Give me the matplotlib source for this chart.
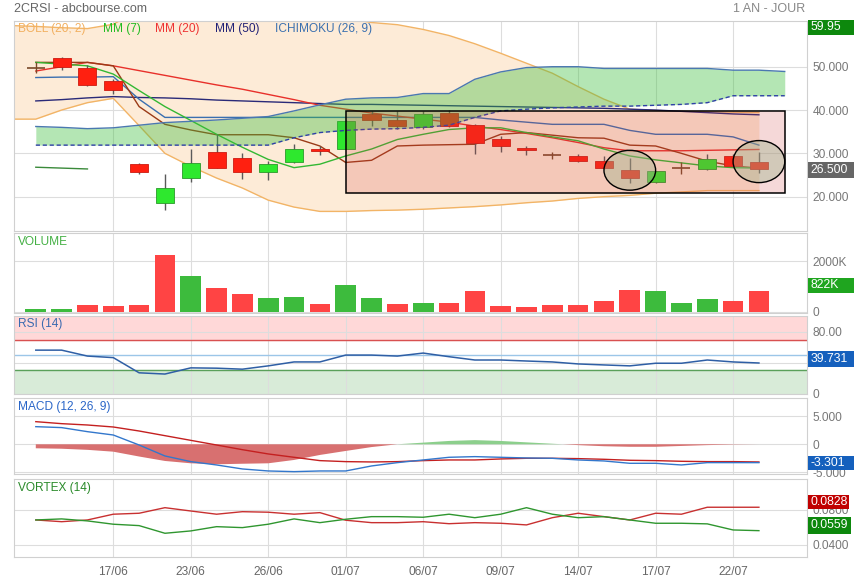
import matplotlib.pyplot as plt
from matplotlib.patches import Rectangle, Ellipse

# ==========================================
# Données lues sur le graphique 2CRSI (29 séances)
# ==========================================
pos_dates = [3, 6, 9, 12, 15, 18, 21, 24, 27]
libelles_dates = ['17/06', '23/06', '26/06', '01/07', '06/07', '09/07', '14/07', '17/07', '22/07']

ouverture = [49.8, 51.9, 49.8, 46.6, 27.6, 18.6, 24.2, 30.3, 29.0, 25.6, 28.0, 30.9, 31.0, 39.0, 37.6,
             36.1, 39.4, 36.5, 33.3, 31.3, 29.6, 29.3, 28.3, 26.2, 23.3, 26.7, 26.5, 29.4, 27.9]
haut = [51.0, 52.3, 50.3, 47.1, 27.8, 25.2, 30.9, 34.4, 30.0, 28.2, 32.1, 31.7, 37.6, 39.8, 39.8,
        39.8, 40.0, 36.8, 34.0, 31.6, 30.3, 29.8, 29.3, 29.0, 26.0, 28.0, 29.8, 29.8, 30.2]
bas = [48.6, 49.3, 45.6, 43.6, 25.2, 16.9, 23.4, 26.7, 24.0, 23.9, 27.7, 29.6, 30.9, 36.3, 35.6,
       35.6, 36.0, 29.8, 30.3, 29.6, 28.6, 28.0, 26.3, 23.1, 23.2, 25.2, 26.2, 27.1, 25.4]
cloture = [49.8, 50.0, 45.8, 44.6, 25.6, 22.1, 27.7, 26.7, 25.6, 27.6, 31.1, 30.5, 37.5, 37.7, 36.3,
           39.2, 36.3, 32.5, 31.7, 30.8, 29.6, 28.3, 26.7, 24.3, 25.9, 26.7, 28.8, 27.1, 26.5]

mm7 = [51.0, 50.6, 50.2, 48.3, 44.5, 40.8, 37.6, 34.4, 31.4, 28.6, 26.7, 27.5, 29.4, 31.0, 33.2,
       34.4, 35.5, 35.9, 35.9, 34.8, 33.8, 32.9, 31.0, 29.4, 28.5, 27.8, 27.1, 26.7, 26.6]
mm20 = [49.0, 50.0, 51.0, 50.2, 49.1, 48.0, 46.9, 45.8, 44.8, 43.6, 42.4, 41.1, 40.2, 39.3, 38.6,
        37.9, 37.2, 36.3, 35.5, 34.6, 33.6, 32.5, 31.3, 30.6, 30.6, 30.6, 30.7, 30.8, 30.9]
mm50 = [42.1, 42.4, 42.8, 43.1, 42.9, 42.8, 42.6, 42.3, 42.1, 41.9, 41.7, 41.5, 41.3, 41.3, 41.2,
        41.1, 41.0, 40.9, 40.8, 40.7, 40.6, 40.5, 40.4, 40.2, 40.0, 39.7, 39.4, 39.1, 38.9]

# Bollinger : commence une séance avant la première bougie
boll_haut = [59.5, 59.3, 59.0, 58.8, 59.8, 63.0, 65.5, 66.5, 67.0, 67.0, 66.5, 65.0, 63.0, 61.2, 60.2,
             59.7, 58.6, 57.2, 55.3, 53.1, 50.8, 48.5, 45.4, 42.5, 40.2, 39.9, 39.7, 39.6, 39.5, 39.4]
boll_bas = [37.9, 37.9, 40.0, 41.7, 42.7, 36.4, 30.0, 27.0, 24.3, 22.0, 19.2, 17.6, 16.6, 16.6, 16.8,
            16.9, 17.1, 17.4, 17.7, 18.1, 18.6, 19.0, 19.6, 20.0, 20.3, 20.8, 21.1, 21.4, 21.4, 21.4]

# Ichimoku
tenkan = [51.0, 51.0, 51.0, 50.2, 40.8, 36.7, 35.4, 34.3, 34.3, 34.3, 33.6, 31.7, 27.9, 28.4, 31.7,
          31.9, 32.0, 32.1, 34.4, 34.8, 34.2, 33.6, 33.5, 31.9, 31.7, 30.0, 28.2, 27.1, 26.6]
kijun = [47.5, 47.6, 47.6, 47.7, 42.5, 38.3, 38.3, 38.3, 38.3, 38.3, 38.3, 38.3, 38.3, 38.3, 38.3,
         38.3, 38.3, 38.3, 37.7, 37.2, 36.7, 36.7, 36.7, 35.3, 34.4, 34.4, 34.4, 33.8, 31.9]
chikou = [26.8, 26.6, 26.4]
ssa = [36.2, 36.0, 35.7, 35.9, 36.5, 37.1, 37.4, 37.7, 38.1, 38.5, 39.8, 41.2, 42.5, 42.8, 42.9,
       43.8, 43.8, 47.1, 48.8, 49.8, 50.0, 50.0, 49.6, 49.6, 49.6, 49.6, 49.6, 49.2, 49.2, 48.9]
ssb = [31.9, 31.9, 31.9, 31.9, 31.9, 31.9, 31.9, 31.9, 31.9, 31.9, 33.6, 34.8, 35.3, 35.6, 35.7,
       36.0, 36.5, 38.3, 39.8, 40.2, 40.5, 40.7, 40.9, 40.9, 41.1, 41.3, 41.7, 43.3, 43.3, 43.3]

volume_k = [90, 90, 275, 235, 247, 2235, 1412, 941, 706, 536, 575, 314, 1046, 549, 301,
            340, 340, 810, 235, 183, 262, 248, 431, 850, 810, 331, 513, 422, 822]
sens_volume = ['h', 'h', 'b', 'b', 'b', 'b', 'h', 'b', 'b', 'h', 'h', 'b', 'h', 'h', 'b',
               'h', 'b', 'b', 'b', 'b', 'b', 'b', 'b', 'b', 'h', 'h', 'h', 'b', 'b']

rsi = [56.4, 56.4, 48.7, 46.7, 27.0, 25.4, 33.4, 33.0, 31.7, 36.0, 41.1, 41.1, 50.0, 50.0, 48.7,
       52.6, 47.9, 43.6, 43.6, 42.3, 41.1, 38.5, 37.2, 36.0, 39.4, 39.4, 43.6, 41.1, 39.731]

macd = [3.17, 3.0, 2.27, 1.67, -0.13, -2.1, -3.12, -3.72, -4.44, -4.8, -4.92, -4.8, -4.8, -3.9, -3.3,
        -2.82, -2.34, -2.22, -2.34, -2.46, -2.52, -2.82, -3.0, -3.42, -3.42, -3.72, -3.3, -3.3, -3.301]
signal = [4.07, 3.71, 3.47, 3.11, 2.39, 1.55, 0.71, -0.13, -0.97, -1.74, -2.34, -2.94, -3.12, -3.18, -3.12,
          -2.94, -2.82, -2.82, -2.64, -2.52, -2.52, -2.58, -2.7, -2.88, -2.94, -3.06, -3.12, -3.12, -3.18]
histo = [-0.72, -0.8, -1.0, -1.33, -2.2, -3.0, -3.42, -3.6, -3.5, -3.42, -2.82, -1.92, -1.2, -0.5, 0.0,
         0.3, 0.6, 0.75, 0.6, 0.35, 0.1, -0.15, -0.35, -0.45, -0.45, -0.3, -0.15, -0.05, 0.0]

vortex_moins = [0.0682, 0.0662, 0.0682, 0.0748, 0.0759, 0.0823, 0.0785, 0.0748, 0.0777, 0.0771,
                0.0748, 0.0766, 0.0679, 0.0651, 0.0651, 0.0662, 0.0639, 0.0651, 0.0644, 0.0625,
                0.0708, 0.0759, 0.0720, 0.0682, 0.0759, 0.0748, 0.0828, 0.0828, 0.0828]
vortex_plus = [0.0682, 0.0694, 0.0671, 0.0633, 0.0617, 0.0529, 0.0556, 0.0605, 0.0594, 0.0633,
               0.0694, 0.0651, 0.0690, 0.0720, 0.0720, 0.0713, 0.0748, 0.0708, 0.0748, 0.0823,
               0.0748, 0.0708, 0.0720, 0.0682, 0.0644, 0.0644, 0.0637, 0.0567, 0.0559]

W, H = 855, 580
GRIS_TEXTE = '#777777'


def tracer_graphique():
    plt.rcParams['font.family'] = ['Liberation Sans', 'DejaVu Sans']
    fig = plt.figure(figsize=(W / 100, H / 100), dpi=100)

    def panneau(y_haut, y_bas):
        g, d = 14, 806.7
        return fig.add_axes([g / W, 1 - y_bas / H, (d - g) / W, (y_bas - y_haut) / H])

    def habiller(ax, yticks, ylabels, ylim):
        ax.set_xlim(-0.844, 29.85)
        ax.set_ylim(*ylim)
        ax.set_xticks(pos_dates)
        ax.set_xticklabels([])
        ax.set_yticks(yticks)
        ax.set_yticklabels(ylabels)
        ax.yaxis.tick_right()
        ax.tick_params(length=0, labelsize=8.6, labelcolor=GRIS_TEXTE, pad=4)
        ax.grid(True, color='#dddddd', linewidth=0.8, zorder=0)
        ax.set_axisbelow(True)
        for s in ax.spines.values():
            s.set_color('#d0d0d0')
            s.set_linewidth(0.8)

    def boite(y_px, texte, couleur, largeur=46, hauteur=15.5):
        # cartouche de largeur fixe collé au bord droit, comme sur abcbourse
        fig.add_artist(Rectangle((808 / W, 1 - (y_px + hauteur / 2) / H), largeur / W, hauteur / H,
                                 transform=fig.transFigure, facecolor=couleur, edgecolor='none',
                                 zorder=10))
        fig.text(810.5 / W, 1 - y_px / H, texte, color='white', fontsize=8.8, va='center',
                 ha='left', zorder=11)

    def titre_panneau(y_px, texte, couleur):
        fig.text(18 / W, 1 - y_px / H, texte, color=couleur, fontsize=8.6, va='center', ha='left')

    x = list(range(len(cloture)))
    x_boll = list(range(-1, len(boll_haut) - 1))
    x_nuage = list(range(len(ssa)))

    # ==========================================
    # Panneau principal : bougies + indicateurs
    # ==========================================
    ax = panneau(21, 231)
    habiller(ax, [20, 30, 40, 50], ['20.000', '30.000', '40.000', '50.000'], (12.08, 60.55))

    ax.fill_between(x_boll, boll_bas, boll_haut, color='#fdebd7', lw=0, zorder=1)
    ax.plot(x_boll, boll_haut, color='#f2b466', lw=1, zorder=2)
    ax.plot(x_boll, boll_bas, color='#f2b466', lw=1, zorder=2)

    ax.plot(x, mm50, color='#2a2a78', lw=1, zorder=3)
    ax.plot(x, kijun, color='#3a6fb0', lw=1, zorder=3)
    ax.plot(x, mm20, color='#e8302a', lw=1, zorder=3)
    ax.plot(x, tenkan, color='#9a3a16', lw=1, zorder=3)
    ax.plot(x, mm7, color='#33b833', lw=1, zorder=3)
    ax.plot(x[:len(chikou)], chikou, color='#3a8a3a', lw=1, zorder=3)

    # Bougies
    for i in x:
        o, h, b, c = ouverture[i], haut[i], bas[i], cloture[i]
        if c == o:
            ax.vlines(i, b, h, color='#7a4a2a', lw=1, zorder=4)
            ax.hlines(c, i - 0.35, i + 0.35, color='#7a4a2a', lw=1.2, zorder=4)
            continue
        fond, bord = ('#2ee82e', '#2a9a2a') if c > o else ('#ff2010', '#cc1a10')
        ax.vlines(i, b, h, color='#5a5a5a', lw=1, zorder=4)
        ax.bar(i, abs(c - o), bottom=min(o, c), width=0.7, color=fond, edgecolor=bord,
               linewidth=0.6, zorder=4.5)

    # Nuage Ichimoku (par-dessus les bougies)
    ax.fill_between(x_nuage, ssb, ssa, color=(60 / 255, 190 / 255, 60 / 255), alpha=0.38, lw=0, zorder=5)
    ax.plot(x_nuage, ssa, color='#4a78b0', lw=1, zorder=6)
    ax.plot(x_nuage, ssb, color='#3040a8', lw=1, dashes=(3, 2), zorder=6)

    # Zone encadrée et cercles
    ax.add_patch(Rectangle((12, 20.8), 17, 19.0, facecolor=(0.82, 0.25, 0.25, 0.2),
                           edgecolor='black', lw=1.1, zorder=7))
    for cx, cy, hh in [(23.0, 26.1, 9.2), (28.0, 28.1, 9.7)]:
        ax.add_patch(Ellipse((cx, cy), 2.0, hh, facecolor=(0.62, 0.7, 0.55, 0.4),
                             edgecolor='black', lw=1, zorder=8))

    # Légende en haut du panneau
    for x_px, txt, coul in [(18, 'BOLL (20, 2)', '#f2b060'), (103, 'MM (7)', '#22bb22'),
                            (155, 'MM (20)', '#ee3333'), (215, 'MM (50)', '#222277'),
                            (275, 'ICHIMOKU (26, 9)', '#3a70b0')]:
        fig.text(x_px / W, 1 - 29.3 / H, txt, color=coul, fontsize=8.6, va='center', ha='left')

    # ==========================================
    # Volume
    # ==========================================
    axv = panneau(233.3, 313.3)
    habiller(axv, [0, 2000], ['0', '2000K'], (-63, 3093))
    couleurs = ['#3dbb3d' if s == 'h' else '#ff4444' for s in sens_volume]
    axv.bar(x, volume_k, width=0.8, color=couleurs, zorder=3)
    titre_panneau(242, 'VOLUME', '#44b044')

    # ==========================================
    # RSI
    # ==========================================
    axr = panneau(316, 394)
    habiller(axr, [0, 40, 80], ['0', '', '80.00'], (-0.5, 100.7))
    axr.axhspan(70, 101, color='#ffd8d8', zorder=0.5)
    axr.axhspan(-1, 30, color='#d8ebd8', zorder=0.5)
    axr.axhline(70, color='#d85050', lw=1, zorder=1)
    axr.axhline(30, color='#5aa05a', lw=1, zorder=1)
    axr.axhline(50, color='#9cc6e8', lw=1, zorder=1)
    axr.plot(x, rsi, color='#2f5fa5', lw=1.1, zorder=3)
    titre_panneau(324.5, 'RSI (14)', '#3a6ab0')

    # ==========================================
    # MACD
    # ==========================================
    axm = panneau(397.7, 474.3)
    habiller(axm, [-5, 0, 5], ['-5.000', '0', '5.000'], (-5.4, 8.38))
    axm.fill_between(x, 0, histo, where=[v <= 0 for v in histo], interpolate=True,
                     color='#d87070', lw=0, zorder=2)
    axm.fill_between(x, 0, histo, where=[v >= 0 for v in histo], interpolate=True,
                     color='#8ccf8c', lw=0, zorder=2)
    axm.plot(x, signal, color='#c42020', lw=1, zorder=3)
    axm.plot(x, macd, color='#3377cc', lw=1, zorder=3)
    titre_panneau(407.3, 'MACD (12, 26, 9)', '#2a66c8')

    # ==========================================
    # VORTEX
    # ==========================================
    axx = panneau(479.3, 557.3)
    habiller(axx, [0.04, 0.08], ['0.0400', '0.0800'], (0.0253, 0.1149))
    axx.plot(x, vortex_moins, color='#c83030', lw=1, zorder=3)
    axx.plot(x, vortex_plus, color='#2f962f', lw=1, zorder=3)
    axx.set_xticklabels(libelles_dates)
    axx.tick_params(axis='x', labelsize=8.6, labelcolor='#666666', pad=6)
    titre_panneau(487.7, 'VORTEX (14)', '#2a8a2a')

    # Valeurs encadrées à droite
    boite(27.5, '59.95', '#0d880d')
    boite(170, f'{cloture[-1]:.3f}', '#666666', hauteur=16.5)
    boite(285.3, f'{volume_k[-1]}K', '#1fa51f')
    boite(359.2, f'{rsi[-1]:.3f}', '#1560bd')
    boite(462.8, f'{macd[-1]:.3f}', '#1560bd', hauteur=14.5)
    boite(502.2, f'{vortex_moins[-1]:.4f}', '#c00000', largeur=41, hauteur=14.5)
    boite(525.3, f'{vortex_plus[-1]:.4f}', '#0d880d', largeur=43, hauteur=17)

    # Titres
    fig.text(14 / W, 1 - 8.5 / H, '2CRSI - abcbourse.com', color='#666666', fontsize=9, va='center')
    fig.text(805 / W, 1 - 8.5 / H, '1 AN - JOUR', color='#888888', fontsize=9, va='center', ha='right')

    fig.savefig('out.png', dpi=100)


if __name__ == "__main__":
    tracer_graphique()
